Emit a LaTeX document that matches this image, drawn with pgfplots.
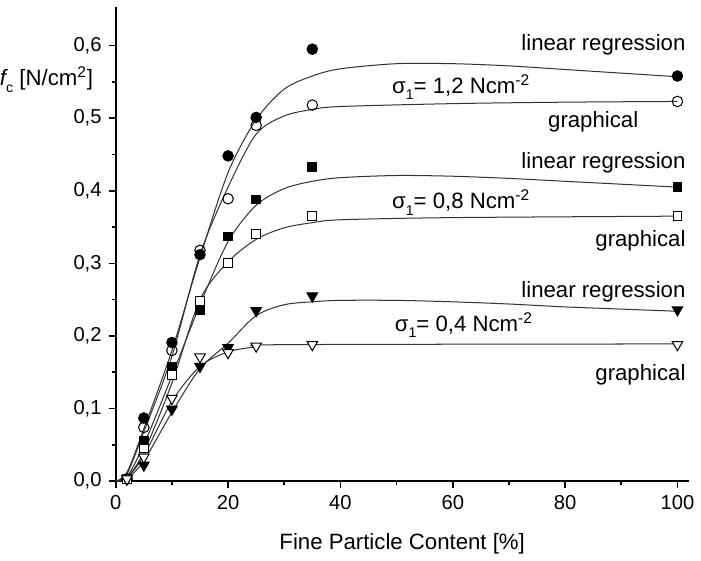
\documentclass[border=0pt]{standalone}
\usepackage{fontspec}
\setmainfont{Liberation Sans}
\usepackage{pgfplots}
\pgfplotsset{compat=1.18}

\newcommand{\sig}[1]{σ\raisebox{-0.55ex}{\scriptsize 1}= #1 Ncm\textsuperscript{-2}}

\begin{document}
\begin{tikzpicture}[x=1pt,y=1pt]
\begin{axis}[
  scale only axis,
  width=284pt, height=235pt,
  xmin=0, xmax=102, ymin=0, ymax=0.653,
  axis lines=left,
  axis line style={-, line width=0.8pt},
  tick align=outside,
  major tick length=3.5pt, minor tick length=2pt,
  tick style={black, line width=0.8pt},
  xtick={0,20,...,100}, minor x tick num=1,
  ytick={0,0.1,...,0.6}, minor y tick num=1,
  /pgf/number format/assume math mode=true,
  yticklabel style={/pgf/number format/.cd, use comma, fixed, fixed zerofill, precision=1},
  xticklabel style={/pgf/number format/.cd, fixed, precision=0},
  ticklabel style={font=\fontsize{10}{12}\selectfont},
  xlabel={Fine Particle Content [\%]},
  xlabel style={font=\fontsize{11}{13}\selectfont, yshift=-5pt},
  clip=false,
  every axis plot/.append style={line width=0.5pt, black},
]
% curves
\addplot[smooth, no marks, black!80] coordinates {(0,0) (2,0.012) (5,0.072) (10,0.18) (15,0.308) (20,0.425) (25,0.498) (30,0.54) (35,0.558) (40,0.568) (50,0.575) (60,0.575) (70,0.572) (80,0.567) (90,0.562) (100,0.557)};
\addplot[smooth, no marks, black!80] coordinates {(0,0) (2,0.01) (5,0.068) (10,0.172) (15,0.312) (20,0.405) (25,0.478) (30,0.503) (35,0.512) (40,0.516) (60,0.52) (80,0.522) (100,0.523)};
\addplot[smooth, no marks, black!80] coordinates {(0,0) (2,0.006) (5,0.05) (10,0.145) (15,0.243) (20,0.33) (25,0.38) (30,0.403) (35,0.413) (40,0.418) (50,0.421) (60,0.42) (70,0.417) (80,0.413) (90,0.409) (100,0.405)};
\addplot[smooth, no marks, black!80] coordinates {(0,0) (2,0.005) (5,0.04) (10,0.135) (15,0.25) (20,0.302) (25,0.333) (30,0.349) (35,0.356) (40,0.36) (60,0.363) (100,0.365)};
\addplot[smooth, no marks, black!80] coordinates {(1,0) (2,0.003) (5,0.028) (10,0.095) (15,0.155) (20,0.19) (25,0.228) (30,0.243) (35,0.247) (40,0.249) (50,0.249) (60,0.247) (70,0.244) (80,0.24) (90,0.237) (100,0.234)};
\addplot[smooth, no marks, black!80] coordinates {(1,0) (2,0.004) (5,0.035) (10,0.11) (15,0.158) (20,0.178) (25,0.185) (30,0.188) (100,0.189)};
% data points
\addplot[only marks, mark=*, mark size=2.6pt, fill=black] coordinates {(2,0.003) (5,0.087) (10,0.191) (15,0.312) (20,0.448) (25,0.501) (35,0.595) (100,0.558)};
\addplot[only marks, mark=o, mark size=2.6pt, mark options={fill=white}] coordinates {(2,0.003) (5,0.074) (10,0.18) (15,0.318) (20,0.389) (25,0.49) (35,0.518) (100,0.523)};
\addplot[only marks, mark=square*, mark size=2.2pt, fill=black] coordinates {(2,0.003) (5,0.055) (10,0.157) (15,0.235) (20,0.337) (25,0.388) (35,0.433) (100,0.405)};
\addplot[only marks, mark=square*, mark size=2.2pt, mark options={fill=white, draw=black}] coordinates {(2,0.003) (5,0.045) (10,0.146) (15,0.248) (20,0.3) (25,0.34) (35,0.365) (100,0.365)};
\addplot[only marks, mark=triangle*, mark size=3pt, mark options={rotate=180, fill=black}] coordinates {(2,0.003) (5,0.022) (10,0.099) (15,0.158) (20,0.184) (25,0.235) (35,0.255) (100,0.236)};
\addplot[only marks, mark=triangle*, mark size=3pt, mark options={rotate=180, fill=white, draw=black}] coordinates {(2,0.003) (5,0.033) (10,0.114) (15,0.171) (20,0.177) (25,0.186) (35,0.188) (100,0.188)};
% annotations
\begin{scope}[every node/.style={font=\fontsize{11}{13}\selectfont, inner sep=0pt}]
\node[anchor=east] at (axis cs:101.5,0.601) {linear regression};
\node at (axis cs:61.5,0.543) {\sig{1,2}};
\node at (axis cs:85,0.495) {graphical};
\node[anchor=east] at (axis cs:101.5,0.439) {linear regression};
\node at (axis cs:61.5,0.384) {\sig{0,8}};
\node[anchor=east] at (axis cs:101.5,0.331) {graphical};
\node[anchor=east] at (axis cs:101.5,0.261) {linear regression};
\node at (axis cs:62,0.215) {\sig{0,4}};
\node[anchor=east] at (axis cs:101.5,0.147) {graphical};
\node[anchor=east] at ([xshift=-11pt]axis cs:0,0.553) {{\itshape f}\raisebox{-0.55ex}{\scriptsize c} [N/cm\textsuperscript{2}]};
\end{scope}
\path ([yshift=3.5pt]rel axis cs:0,1) coordinate (topspace);
\end{axis}
\path (topspace) -- ++(0,0);
\end{tikzpicture}
\end{document}
